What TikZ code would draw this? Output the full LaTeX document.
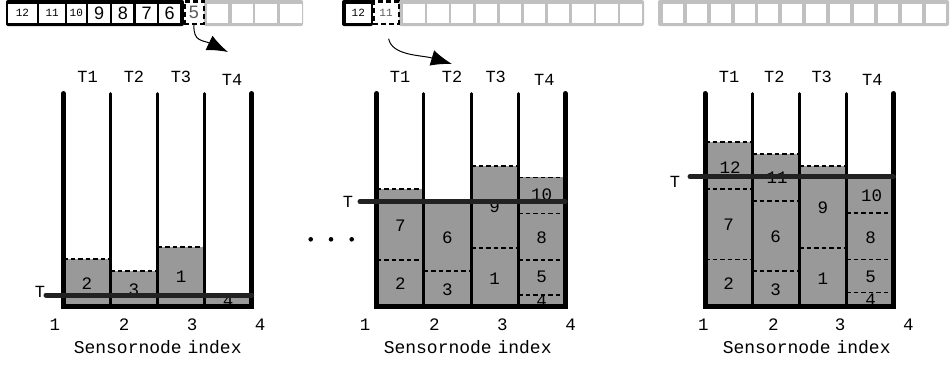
\documentclass[tikz,border=0pt]{standalone}
\usepackage{fontspec}
\setmainfont{Liberation Mono}
\newfontfamily\qsans{Liberation Sans}
\usetikzlibrary{arrows.meta}

\definecolor{bargray}{RGB}{153,153,153}
\definecolor{qgray}{RGB}{192,192,192}
\definecolor{tline}{RGB}{34,34,34}
\definecolor{qtext}{RGB}{90,90,90}

\tikzset{
  wall/.style={line width=5pt, line cap=round, line join=miter},
  divider/.style={line width=3pt, line cap=round},
  bar/.style={fill=bargray},
  sep/.style={dash pattern=on 4.5pt off 3pt, line width=1.6pt},
  thr/.style={line width=5pt, draw=tline, line cap=round},
  blabel/.style={font=\fontsize{17.5}{17.5}\selectfont, inner sep=0pt},
  tlabel/.style={font=\fontsize{17}{17}\selectfont, inner sep=0pt},
  axlabel/.style={font=\fontsize{17.5}{17.5}\selectfont, inner sep=0pt},
  xtitle/.style={font=\fontsize{18}{18}\selectfont, inner sep=0pt},
  qcell/.style={fill=white, inner sep=0pt, minimum height=19pt},
  qdash/.style={fill=white, draw=black, line width=2.5pt, dash pattern=on 5pt off 3pt,
                inner sep=0pt, minimum height=22.5pt},
  qsmall/.style={font=\fontsize{11}{11}\selectfont},
  qbig/.style={font=\qsans\fontsize{18}{18}\selectfont},
  qarrow/.style={line width=1pt, -{Latex[length=21pt,width=16pt]}},
  dotnode/.style={circle, fill=black, inner sep=0pt, minimum size=4.6pt}
}

\begin{document}
\begin{tikzpicture}[x=1pt, y=-1pt]
\useasboundingbox (0,0) rectangle (951,365);
\fill[white] (0,0) rectangle (951,365);

% ---------- queue 1 ----------
\fill[black, rounded corners=2pt] (6,0) rectangle (184,26);
\fill[qgray, rounded corners=2pt] (204,0) rectangle (303,26);
\node[qcell, qsmall, minimum width=28.4pt] (qa12) at (22.5,13) {12};
\node[qcell, qsmall, minimum width=25.7pt] (qa11) at (52.2,13) {11};
\node[qcell, qsmall, minimum width=19.3pt] (qa10) at (76.3,13) {10};
\node[qcell, qbig, minimum width=21.7pt] (qa9) at (99.2,13) {9};
\node[qcell, qbig, minimum width=21pt] (qa8) at (122.8,13) {8};
\node[qcell, qbig, minimum width=21.3pt] (qa7) at (146.7,13) {7};
\node[qcell, qbig, minimum width=20.7pt] (qa6) at (169.7,13) {6};
\node[qdash, qbig, text=qtext, minimum width=19.5pt] (qa5) at (194,12.5) {5};
\foreach \k/\cx in {1/217.5, 2/242.5, 3/265.8, 4/290.8}
  \node[qcell, minimum width=21.6pt] (qae\k) at (\cx,13) {};

% ---------- queue 2 ----------
\fill[black, rounded corners=2pt] (342,0) rectangle (373,26);
\fill[qgray, rounded corners=2pt] (399,0) rectangle (644,26);
\node[qcell, qsmall, minimum width=25.5pt] (qb12) at (358.3,13) {12};
\node[qdash, qsmall, text=qtext, minimum width=25.5pt] (qb11) at (386,12.5) {11};
\foreach \k in {0,...,9}
  \node[qcell, minimum width=21.7pt] (qbe\k) at ({414.2+24.07*\k},13) {};

% ---------- queue 3 ----------
\fill[qgray, rounded corners=2pt] (658,0) rectangle (949,26);
\foreach \k in {0,...,11}
  \node[qcell, minimum width=20pt] (qce\k) at ({672.7+23.94*\k},13) {};

% ---------- arrows from the queue ----------
\coordinate (qa5in) at (228,52);
\draw[qarrow] (qa5.south) .. controls (193,42) and (203,40) .. (qa5in);
\coordinate (qb11in) at (452,64);
\draw[qarrow, shorten <=14pt] (qb11.south) .. controls (392,56) and (422,55) .. (qb11in);

% ---------- dots between panels ----------
\node[dotnode] (dot1) at (310.7,239.3) {};
\node[dotnode] (dot2) at (331,239.3) {};
\node[dotnode] (dot3) at (351.7,239.3) {};

% ================= panel 1 =================
\begin{scope}[shift={(63.3,0)}]
  \fill[bar] (0,259) rectangle (47.1,306.5);
  \fill[bar] (47.1,270.7) rectangle (94.2,306.5);
  \fill[bar] (94.2,247) rectangle (141.3,306.5);
  \fill[bar] (141.3,293) rectangle (188.4,306.5);
  \draw[sep] (0,259) -- (47.1,259);
  \draw[sep] (47.1,270.7) -- (94.2,270.7);
  \draw[sep] (94.2,247) -- (141.3,247);
  \node[blabel] (pa2) at (23.55,284) {2};
  \node[blabel] (pa3) at (70.65,290) {3};
  \node[blabel] (pa1) at (117.75,276.7) {1};
  \node[blabel] (pa4) at (164.85,301) {4};
  \draw[wall] (0,93.5) -- (0,306.5) -- (188.4,306.5) -- (188.4,93.5);
  \foreach \d in {47.1,94.2,141.3} \draw[divider] (\d,93.5) -- (\d,306.5);
  \node[tlabel] (pat) at (-23.3,291.5) {T};
  \coordinate (pats) at (-17.3,295);
  \coordinate (pate) at (188.4,295);
  \draw[thr] (pats) -- (pate);
  \node[tlabel] (paT1) at (24.4,77) {T1};
  \node[tlabel] (paT2) at (70.7,77) {T2};
  \node[tlabel] (paT3) at (117.7,77) {T3};
  \node[tlabel] (paT4) at (168.7,80) {T4};
  \node[axlabel] (pax1) at (-8.3,325) {1};
  \node[axlabel] (pax2) at (60.7,325) {2};
  \node[axlabel] (pax3) at (128.7,325) {3};
  \node[axlabel] (pax4) at (196.7,325) {4};
  \node[xtitle] (patitle) at (94.4,347) {Sensornode\kern-5pt{} index};
\end{scope}

% ================= panel 2 =================
\begin{scope}[shift={(376.8,0)}]
  \fill[bar] (0,189) rectangle (47.1,306.5);
  \fill[bar] (47.1,201) rectangle (94.2,306.5);
  \fill[bar] (94.2,166) rectangle (141.3,306.5);
  \fill[bar] (141.3,177.3) rectangle (188.4,306.5);
  \foreach \y in {189,260} \draw[sep] (0,\y) -- (47.1,\y);
  \foreach \y in {271} \draw[sep] (47.1,\y) -- (94.2,\y);
  \foreach \y in {166,247.7} \draw[sep] (94.2,\y) -- (141.3,\y);
  \foreach \y in {177.3,213.3,260,295} \draw[sep] (141.3,\y) -- (188.4,\y);
  \node[blabel] (pb7) at (23.55,225.7) {7};
  \node[blabel] (pb2) at (23.55,284) {2};
  \node[blabel] (pb6) at (70.65,237.3) {6};
  \node[blabel] (pb3) at (70.65,290) {3};
  \node[blabel] (pb9) at (117.75,206.7) {9};
  \node[blabel] (pb1) at (117.75,278.3) {1};
  \node[blabel] (pb10) at (164.85,195) {10};
  \node[blabel] (pb8) at (164.85,237.3) {8};
  \node[blabel] (pb5) at (164.85,276.7) {5};
  \node[blabel] (pb4) at (164.85,300.5) {4};
  \draw[wall] (0,93.5) -- (0,306.5) -- (188.4,306.5) -- (188.4,93.5);
  \foreach \d in {47.1,94.2,141.3} \draw[divider] (\d,93.5) -- (\d,306.5);
  \node[tlabel] (pbt) at (-28.8,202) {T};
  \coordinate (pbts) at (-16.8,201.7);
  \coordinate (pbte) at (188.4,201.7);
  \draw[thr] (pbts) -- (pbte);
  \node[tlabel] (pbT1) at (23.2,77) {T1};
  \node[tlabel] (pbT2) at (75.2,77) {T2};
  \node[tlabel] (pbT3) at (118.9,77) {T3};
  \node[tlabel] (pbT4) at (167.5,80) {T4};
  \node[axlabel] (pbx1) at (-11.8,325) {1};
  \node[axlabel] (pbx2) at (57.5,325) {2};
  \node[axlabel] (pbx3) at (125.5,325) {3};
  \node[axlabel] (pbx4) at (193.9,325) {4};
  \node[xtitle] (pbtitle) at (90.9,347) {Sensornode\kern-5pt{} index};
\end{scope}

% ================= panel 3 =================
\begin{scope}[shift={(705,0)}]
  \fill[bar] (0,141.7) rectangle (47.1,306.5);
  \fill[bar] (47.1,154) rectangle (94.2,306.5);
  \fill[bar] (94.2,165.7) rectangle (141.3,306.5);
  \fill[bar] (141.3,177) rectangle (188.4,306.5);
  \foreach \y in {141.7,189,259.3} \draw[sep] (0,\y) -- (47.1,\y);
  \foreach \y in {154,201,271} \draw[sep] (47.1,\y) -- (94.2,\y);
  \foreach \y in {165.7,247.7} \draw[sep] (94.2,\y) -- (141.3,\y);
  \foreach \y in {212.7,259.3,292.3} \draw[sep] (141.3,\y) -- (188.4,\y);
  \node[blabel] (pc12) at (25,167.3) {12};
  \node[blabel] (pc7) at (23.55,225) {7};
  \node[blabel] (pc2) at (23.55,284) {2};
  \node[blabel] (pc11) at (72,177.3) {11};
  \node[blabel] (pc6) at (70.65,236.7) {6};
  \node[blabel] (pc3) at (70.65,290) {3};
  \node[blabel] (pc9) at (117.75,207.7) {9};
  \node[blabel] (pc1) at (117.75,278.3) {1};
  \node[blabel] (pc10) at (166.5,196) {10};
  \node[blabel] (pc8) at (165.5,237.3) {8};
  \node[blabel] (pc5) at (165.5,276.7) {5};
  \node[blabel] (pc4) at (165.5,299.3) {4};
  \draw[wall] (0,93.5) -- (0,306.5) -- (188.4,306.5) -- (188.4,93.5);
  \foreach \d in {47.1,94.2,141.3} \draw[divider] (\d,93.5) -- (\d,306.5);
  \node[tlabel] (pct) at (-30,181.5) {T};
  \coordinate (pcts) at (-15,176.7);
  \coordinate (pcte) at (188.4,176.7);
  \draw[thr] (pcts) -- (pcte);
  \node[tlabel] (pcT1) at (24,77) {T1};
  \node[tlabel] (pcT2) at (69.3,77) {T2};
  \node[tlabel] (pcT3) at (116.7,77) {T3};
  \node[tlabel] (pcT4) at (167.3,80) {T4};
  \node[axlabel] (pcx1) at (-1.7,325) {1};
  \node[axlabel] (pcx2) at (68.3,325) {2};
  \node[axlabel] (pcx3) at (135,325) {3};
  \node[axlabel] (pcx4) at (203.3,325) {4};
  \node[xtitle] (pctitle) at (101.7,347) {Sensornode\kern-5pt{} index};
\end{scope}
\end{tikzpicture}
\end{document}
